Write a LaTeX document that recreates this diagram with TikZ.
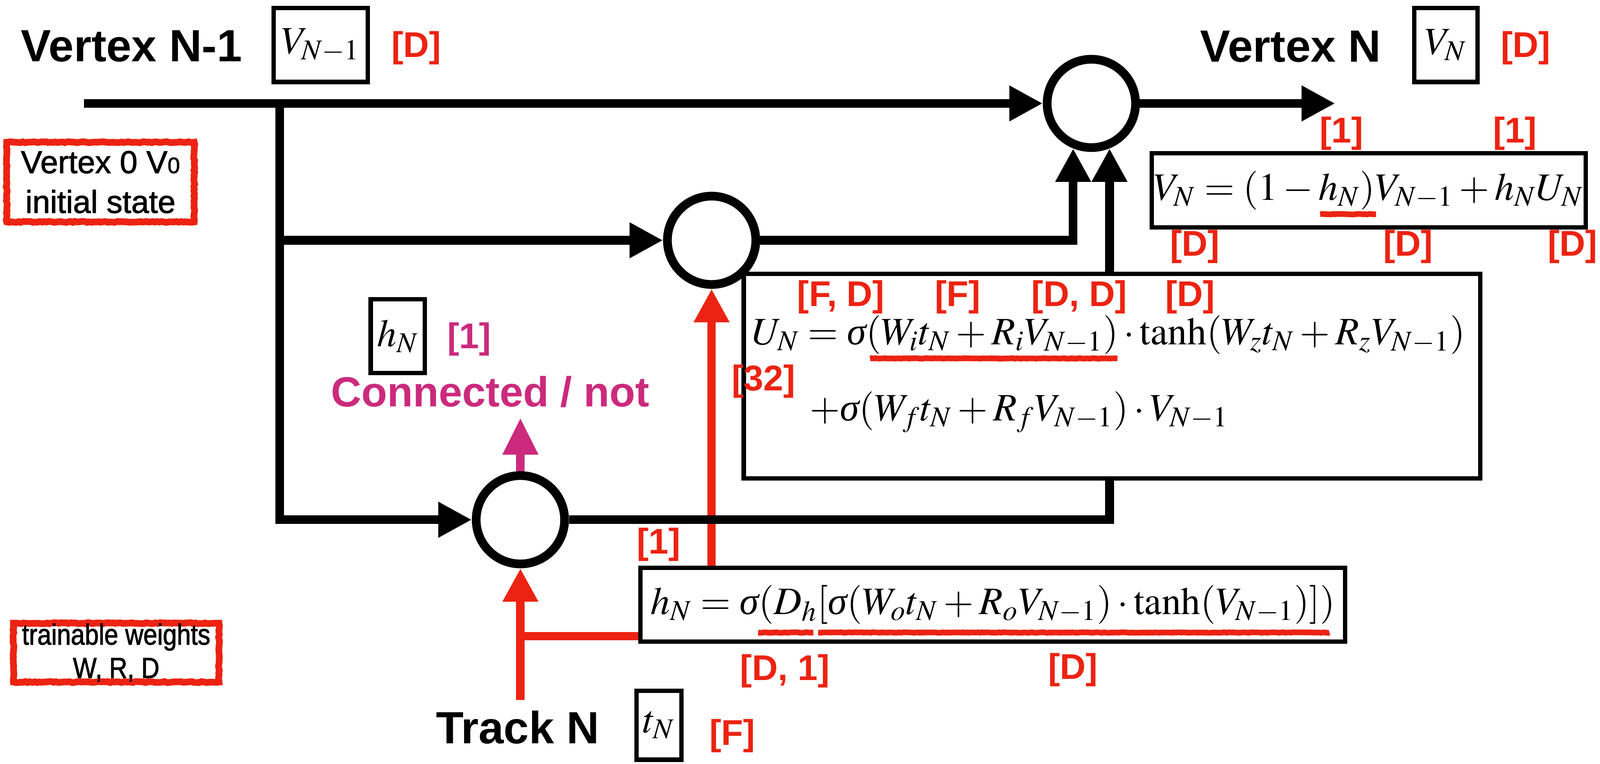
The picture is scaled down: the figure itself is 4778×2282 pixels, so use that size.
\documentclass[tikz,border=0pt]{standalone}
\usepackage{mathptmx}
\usepackage[no-math]{fontspec}
\setmainfont{Liberation Sans}
\newfontfamily\sigfont{Liberation Serif Italic}
\newfontfamily\notefont{Liberation Sans}[FakeBold=1.6]
\newfontfamily\narrownotefont{Liberation Sans}[FakeBold=1.6, FakeStretch=0.86]
\usepackage{xcolor}
\usetikzlibrary{arrows.meta}
\usetikzlibrary{calc}
\usetikzlibrary{decorations.pathmorphing}

\definecolor{dimred}{RGB}{236,35,18}
\definecolor{connpink}{RGB}{203,42,125}
\newcommand{\eqsize}{\fontsize{16.5}{20}\selectfont}
\newcommand{\headsize}{\fontsize{19.2}{23}\selectfont\bfseries}
\newcommand{\dimsize}{\fontsize{15.2}{18}\selectfont\bfseries}
\newcommand{\sgm}{\mathord{\mbox{\sigfont σ}}}

\begin{document}
\begin{tikzpicture}[x=0.05mm, y=-0.05mm,
    gate/.style={circle, draw, line width=0.13cm, minimum size=1.32cm, inner sep=0pt},
    box/.style={draw, fill=white, line width=0.065cm, inner sep=0pt, font=\eqsize},
    wire/.style={line width=0.13cm},
    flow/.style={wire, -{Triangle[length=0.5cm, width=0.5cm]}},
    redwire/.style={line width=0.125cm, draw=dimred},
    redflow/.style={redwire, -{Triangle[length=0.5cm, width=0.5cm]}},
    pinkflow/.style={line width=0.125cm, draw=connpink, -{Triangle[length=0.55cm, width=0.5cm]}},
    headlbl/.style={font=\headsize, inner sep=0pt},
    dimlbl/.style={font=\dimsize, text=dimred, inner sep=0pt},
    rough/.style={decorate, decoration={random steps, segment length=1pt, amplitude=0.22pt}},
    note/.style={draw=dimred, line width=0.1cm, rough, align=center, inner sep=0pt},
    squiggle/.style={draw=dimred, line width=0.085cm, decorate, decoration={random steps, segment length=0.8pt, amplitude=0.12pt}}
]
\useasboundingbox (0,0) rectangle (4778,2282);

% Gates
\node[gate] (cmix) at (3259,309) {};
\node[gate] (cgate) at (2125,718) {};
\node[gate] (cconn) at (1554,1553) {};

% Vertex N-1 / Vertex N
\node[headlbl, anchor=base] (vprevlbl) at (393,184) {Vertex N-1};
\node[box, minimum width=1.405cm, minimum height=1.105cm] (vprev) at (957.5,134.5) {$V_{N-1}$};
\node[dimlbl] (vprevdim) at (1243,143) {[D]};
\node[headlbl, anchor=base] (vnextlbl) at (3854,185) {Vertex N};
\node[box, minimum width=0.945cm, minimum height=1.105cm] (vnext) at (4317.5,134.5) {$V_N$};
\node[dimlbl] (vnextdim) at (4556,143) {[D]};

% Notes
\node[note, minimum width=2.8cm, minimum height=1.19cm, font=\notefont\fontsize{13.5}{16.9}\selectfont] (initnote) at (300,544)
    {Vertex 0 V{\fontsize{9.5}{9.5}\selectfont 0}\\initial state};
\node[note, minimum width=3.07cm, minimum height=0.88cm, font=\narrownotefont\fontsize{12.4}{14.2}\selectfont] (weightnote) at (347,1950)
    {trainable weights\\W, R, D};

% Connected / not
\node[box, minimum width=0.81cm, minimum height=1.105cm] (hbox) at (1188,1004.5) {$h_N$};
\node[dimlbl, text=connpink] (hdim) at (1401,1013) {[1]};
\node[font=\fontsize{17.9}{21}\selectfont\bfseries, text=connpink, anchor=base, inner sep=0pt, text depth=0.16cm] (connlbl) at (1464,1215) {Connected / not};

% Track N
\node[headlbl, anchor=base] (track) at (1546,2221) {Track N};
\node[box, minimum width=0.67cm, minimum height=1.03cm] (tbox) at (1968,2167) {$t_N$};
\node[dimlbl] (tdim) at (2187,2199) {[F]};

% Output equation
\node[box, minimum width=6.48cm, minimum height=1.105cm] (veq) at (4087,568.5) {$V_N = (1 - h_N)V_{N-1} + h_N U_N$};

% Gate equation
\node[box, minimum width=10.52cm, minimum height=1.10cm] (heq) at (2965,1807)
    {$h_N = \sgm(D_h[\sgm(W_o t_N + R_o V_{N-1}) \cdot \tanh(V_{N-1})])$};

% Red wires
\coordinate (hjoin) at (1554,1901);
\draw[redflow] ([yshift=0.15cm]track.north -| cconn) -- (cconn.south);
\draw[redwire] (heq.west |- hjoin) -- (hjoin);
\draw[redflow] (cgate |- heq.north) -- (cgate.south);
\draw[pinkflow] (cconn.north) -- (cconn.north |- connlbl.south);

% Black wires
\coordinate (vin) at (251,309);
\coordinate (split) at (835,309);
\coordinate (vout) at (3987,309);
\draw[flow] (vin) -- (cmix.west);
\draw[flow] (split) |- (cconn.west);
\draw[flow] (split |- cgate) -- (cgate.west);
\draw[flow] (cmix.east) -- (vout);
\draw[flow] (cgate.east) -| (cmix.-112);
\draw[flow] (cconn.east) -| (cmix.-68);

% Update equation
\node[box, minimum width=10.995cm, minimum height=3.06cm] (ubox) at (3320.5,1124) {};
\node[font=\eqsize, anchor=base west, inner sep=0pt] (ueqa) at (2245,1030)
    {$U_N = \sgm(W_i t_N + R_i V_{N-1}) \cdot \tanh(W_z t_N + R_z V_{N-1})$};
\node[font=\eqsize, anchor=base west, inner sep=0pt] (ueqb) at (2417,1257)
    {$+\sgm(W_f t_N + R_f V_{N-1}) \cdot V_{N-1}$};

% Dimensions
\node[dimlbl] (d1) at (4006,399) {[1]};
\node[dimlbl] (d2) at (4524,399) {[1]};
\node[dimlbl] (d3) at (3568,737) {[D]};
\node[dimlbl] (d4) at (4205,737) {[D]};
\node[dimlbl] (d5) at (4696,737) {[D]};
\node[dimlbl] (d6) at (2511,887) {[F, D]};
\node[dimlbl] (d7) at (2860,887) {[F]};
\node[dimlbl] (d8) at (3223,887) {[D, D]};
\node[dimlbl] (d9) at (3554,887) {[D]};
\node[dimlbl] (d10) at (2280,1140) {[32]};
\node[dimlbl] (d11) at (1967,1627) {[1]};
\node[dimlbl] (d12) at (2344,2005) {[D, 1]};
\node[dimlbl] (d13) at (3204,2001) {[D]};

% Underlines
\draw[squiggle] (3942,640) -- (4109,640);
\draw[squiggle] (2598,1071) -- (3337,1071);
\draw[squiggle] (2264,1890) -- (2429,1890);
\draw[squiggle] (2443,1890) -- (3970,1890);

\end{tikzpicture}
\end{document}
